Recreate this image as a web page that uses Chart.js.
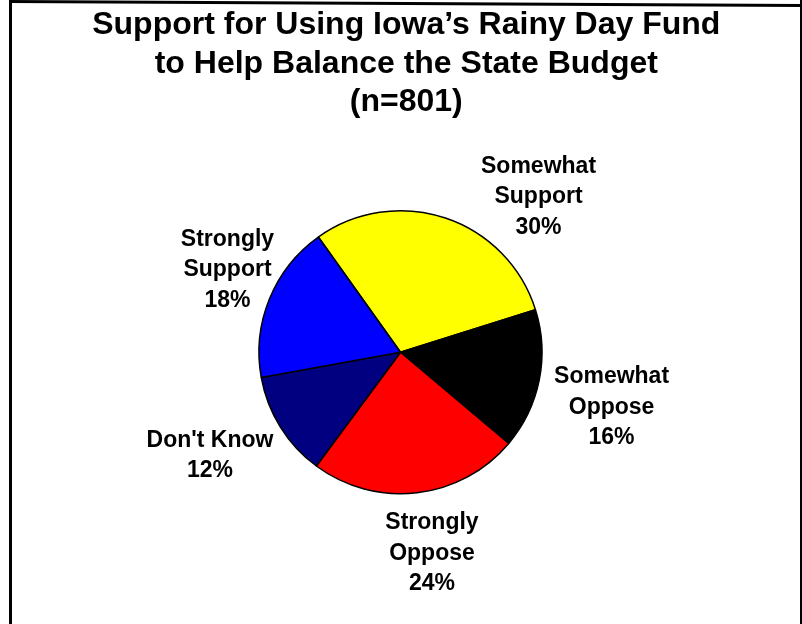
<!DOCTYPE html>
<html>
<head>
<meta charset="utf-8">
<script src="https://cdn.jsdelivr.net/npm/chart.js@4/dist/chart.umd.min.js"></script>
<style>
  html, body { margin: 0; padding: 0; background: #ffffff; }
  #wrap { width: 802px; height: 624px; position: relative; }
  canvas { display: block; }
</style>
</head>
<body>
<div id="wrap"><canvas id="pie" width="802" height="624"></canvas></div>
<script>
// Survey answers, clockwise from the upper left
const categories = ['Somewhat Support', 'Somewhat Oppose', 'Strongly Oppose', "Don't Know", 'Strongly Support'];
const labelLines = [['Somewhat', 'Support'], ['Somewhat', 'Oppose'], ['Strongly', 'Oppose'], ["Don't Know"], ['Strongly', 'Support']];
const shares = [30, 16, 24, 12, 18];
const sliceColors = ['#FFFF00', '#000000', '#FF0000', '#000080', '#0000FF'];
const titleLines = ['Support for Using Iowa\u2019s Rainy Day Fund', 'to Help Balance the State Budget', '(n=801)'];

const FONT = '"Liberation Sans", Arial, Helvetica, sans-serif';

// Black frame round the page and the three-line heading
const framePlugin = {
  id: 'frameAndHeading',
  beforeDraw(chart) {
    const ctx = chart.ctx;
    ctx.save();
    ctx.fillStyle = '#ffffff';
    ctx.fillRect(0, 0, chart.width, chart.height);
    ctx.fillStyle = '#000000';
    ctx.fillRect(9, 0, 3, chart.height);
    ctx.fillRect(800, 0, 2, chart.height);
    ctx.beginPath();
    ctx.moveTo(9, 0);
    ctx.lineTo(802, 4);
    ctx.lineTo(802, 7);
    ctx.lineTo(9, 3);
    ctx.closePath();
    ctx.fill();
    ctx.restore();
  },
  afterDraw(chart, args, opts) {
    const ctx = chart.ctx;
    ctx.save();
    ctx.fillStyle = '#000000';
    ctx.font = 'bold 32px ' + FONT;
    ctx.textAlign = 'center';
    ctx.textBaseline = 'alphabetic';
    opts.lines.forEach((t, i) => ctx.fillText(t, opts.x, opts.firstBaseline + i * opts.lineHeight));
    ctx.restore();
  }
};

// Category name and percentage outside each slice
const sliceLabels = {
  id: 'sliceLabels',
  afterDatasetsDraw(chart, args, opts) {
    const ctx = chart.ctx;
    const meta = chart.getDatasetMeta(0);
    ctx.save();
    ctx.fillStyle = '#000000';
    ctx.font = 'bold 23px ' + FONT;
    ctx.textAlign = 'center';
    ctx.textBaseline = 'middle';
    meta.data.forEach((arc, i) => {
      const p = arc.getProps(['x', 'y', 'startAngle', 'endAngle', 'outerRadius'], true);
      const place = opts.place[i];
      const a = (p.startAngle + p.endAngle) / 2 + place.turn * Math.PI / 180;
      const d = p.outerRadius + place.gap;
      const cx = p.x + Math.cos(a) * d;
      const cy = p.y + Math.sin(a) * d;
      const lines = labelLines[i].concat([chart.data.datasets[0].data[i] + '%']);
      const top = cy - (lines.length - 1) * opts.lineHeight / 2;
      lines.forEach((t, k) => ctx.fillText(t, cx, top + k * opts.lineHeight));
    });
    ctx.restore();
  }
};

new Chart(document.getElementById('pie'), {
  type: 'pie',
  data: {
    labels: categories,
    datasets: [{
      data: shares,
      backgroundColor: sliceColors,
      borderColor: '#000000',
      borderWidth: 1.5,
      hoverOffset: 0
    }]
  },
  options: {
    responsive: false,
    animation: false,
    rotation: -35.5,
    layout: { padding: { left: 258.25, right: 259.25, top: 210, bottom: 129.5 } },
    plugins: {
      legend: { display: false },
      title: { display: false },
      tooltip: { enabled: false },
      frameAndHeading: { lines: titleLines, x: 406.3, firstBaseline: 34.3, lineHeight: 38.4 },
      sliceLabels: {
        lineHeight: 30.5,
        place: [
          { turn: 23.1, gap: 66.4 },
          { turn: 3.4, gap: 76.7 },
          { turn: -2.2, gap: 62 },
          { turn: 3.4, gap: 75.3 },
          { turn: 3.4, gap: 50.2 }
        ]
      }
    }
  },
  plugins: [framePlugin, sliceLabels]
});
</script>
</body>
</html>
